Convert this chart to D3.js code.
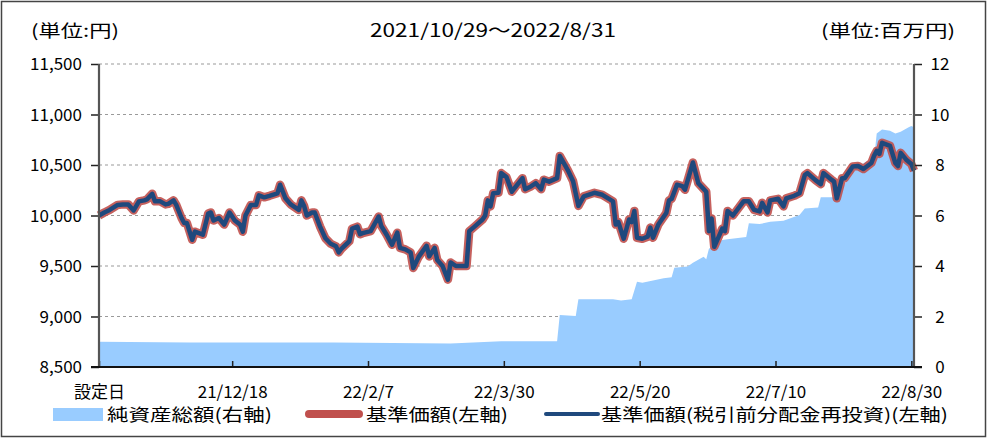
<!DOCTYPE html>
<html><head><meta charset="utf-8">
<script src="https://cdn.jsdelivr.net/npm/d3@7"></script>
<style>
html,body{margin:0;padding:0;background:#fff;}
svg{display:block;}
text{font-family:"Liberation Sans Narrow","Noto Sans CJK JP",sans-serif;fill:#000;}
.jp{font-family:"Noto Sans CJK JP",sans-serif;}
</style></head>
<body>
<svg id="chart" width="989" height="439"></svg>
<script>
// ---- data ----
const navDates = [
"2021-10-29","2021-10-31","2021-11-02","2021-11-05","2021-11-07","2021-11-09","2021-11-10","2021-11-11","2021-11-13","2021-11-15",
"2021-11-16","2021-11-18","2021-11-19","2021-11-21","2021-11-23","2021-11-24","2021-11-26","2021-11-27","2021-11-29","2021-11-30",
"2021-12-01","2021-12-03","2021-12-04","2021-12-06","2021-12-07","2021-12-09","2021-12-10","2021-12-11","2021-12-13","2021-12-15",
"2021-12-17","2021-12-19","2021-12-21","2021-12-22","2021-12-23","2021-12-25","2021-12-27","2021-12-28","2021-12-30","2022-01-01",
"2022-01-04","2022-01-05","2022-01-07","2022-01-09","2022-01-12","2022-01-13","2022-01-14","2022-01-15","2022-01-17","2022-01-18",
"2022-01-20","2022-01-22","2022-01-24","2022-01-26","2022-01-27","2022-01-28","2022-01-31","2022-02-01","2022-02-03","2022-02-04",
"2022-02-05","2022-02-08","2022-02-11","2022-02-12","2022-02-14","2022-02-16","2022-02-18","2022-02-19","2022-02-21","2022-02-23",
"2022-02-24","2022-02-26","2022-03-01","2022-03-02","2022-03-04","2022-03-05","2022-03-07","2022-03-09","2022-03-10","2022-03-12",
"2022-03-16","2022-03-17","2022-03-19","2022-03-22","2022-03-23","2022-03-24","2022-03-25","2022-03-26","2022-03-28","2022-03-29",
"2022-03-31","2022-04-02","2022-04-03","2022-04-06","2022-04-07","2022-04-09","2022-04-11","2022-04-13","2022-04-14","2022-04-16",
"2022-04-19","2022-04-20","2022-04-23","2022-04-25","2022-04-27","2022-04-29","2022-05-03","2022-05-06","2022-05-10","2022-05-11",
"2022-05-12","2022-05-14","2022-05-16","2022-05-17","2022-05-18","2022-05-19","2022-05-21","2022-05-23","2022-05-24","2022-05-25",
"2022-05-27","2022-05-30","2022-05-31","2022-06-01","2022-06-03","2022-06-05","2022-06-06","2022-06-09","2022-06-11","2022-06-14",
"2022-06-15","2022-06-16","2022-06-17","2022-06-20","2022-06-21","2022-06-22","2022-06-24","2022-06-28","2022-06-30","2022-07-02",
"2022-07-04","2022-07-05","2022-07-07","2022-07-08","2022-07-11","2022-07-13","2022-07-14","2022-07-17","2022-07-19","2022-07-21",
"2022-07-22","2022-07-25","2022-07-27","2022-07-28","2022-07-31","2022-08-01","2022-08-02","2022-08-04","2022-08-05","2022-08-08",
"2022-08-10","2022-08-12","2022-08-15","2022-08-16","2022-08-17","2022-08-18","2022-08-19","2022-08-22","2022-08-24","2022-08-25",
"2022-08-26","2022-08-28","2022-08-30","2022-08-31"];

// 基準価額 (円)
const navValues = [
10000,10030,10055,10105,10110,10110,10080,10050,10140,10150,
10160,10215,10140,10140,10110,10115,10150,10105,9975,9925,
9925,9760,9840,9820,9810,10020,10030,9950,9975,9910,
10030,9950,9910,9840,10000,10105,10105,10200,10180,10195,
10220,10305,10170,10110,10055,10150,10095,10000,10030,10030,
9890,9775,9720,9695,9635,9670,9745,9870,9890,9815,
9825,9845,9990,9895,9810,9710,9830,9680,9665,9635,
9480,9590,9700,9595,9680,9560,9500,9365,9535,9500,
9500,9845,9890,9960,10000,10150,10090,10220,10225,10420,
10380,10235,10270,10370,10260,10285,10320,10260,10355,10335,
10370,10590,10450,10340,10095,10190,10225,10205,10140,9910,
9935,9770,9960,9935,10045,9780,9770,9790,9880,9780,
9910,10025,10150,10165,10305,10290,10255,10525,10320,10235,
9845,9970,9690,9870,9845,10045,10000,10140,10140,10055,
10040,10125,10030,10150,10165,10090,10170,10195,10220,10400,
10420,10350,10310,10420,10355,10335,10170,10370,10370,10485,
10490,10460,10520,10590,10640,10610,10720,10690,10520,10490,
10620,10555,10510,10445];

// 基準価額(税引前分配金再投資) — no distributions, identical to 基準価額
const reinvestValues = navValues;

// 純資産総額 (百万円)
const assetDates = ["2021-10-29","2021-12-02","2022-01-25","2022-03-10","2022-03-29","2022-04-19","2022-04-20","2022-04-26","2022-04-27","2022-05-10",
"2022-05-13","2022-05-17","2022-05-19","2022-05-21","2022-05-29","2022-06-01","2022-06-02","2022-06-07","2022-06-09","2022-06-13",
"2022-06-14","2022-06-15","2022-06-20","2022-06-22","2022-06-29","2022-06-30","2022-07-04","2022-07-08","2022-07-13","2022-07-19",
"2022-07-21","2022-07-26","2022-07-27","2022-08-01","2022-08-05","2022-08-08","2022-08-13","2022-08-16","2022-08-17","2022-08-19",
"2022-08-22","2022-08-24","2022-08-26","2022-08-29","2022-08-30","2022-08-31"];
const assetValues = [1.00,0.97,0.97,0.93,1.02,1.02,2.06,2.02,2.68,2.68,
2.63,2.68,3.38,3.34,3.51,3.55,3.93,3.98,4.13,4.37,
4.27,4.68,5.03,5.06,5.15,5.69,5.66,5.75,5.79,6.02,
6.28,6.32,6.72,6.72,7.25,7.80,8.13,8.20,9.25,9.41,
9.36,9.25,9.32,9.50,9.54,9.50];

const leftTicks = [8500,9000,9500,10000,10500,11000,11500];
const rightTicks = [0,2,4,6,8,10,12];
const xTickDates = ["2021-10-29","2021-12-18","2022-02-07","2022-03-30","2022-05-20","2022-07-10","2022-08-30"];
const xTickLabels = ["設定日","21/12/18","22/2/7","22/3/30","22/5/20","22/7/10","22/8/30"];
const seriesNames = ["純資産総額(右軸)","基準価額(左軸)","基準価額(税引前分配金再投資)(左軸)"];
const colors = {area:"#99CCFF", nav:"#C0504D", reinv:"#1F497D"};

// ---- drawing ----
const parse = d3.timeParse("%Y-%m-%d");
const svg = d3.select("#chart");
const L = 99, R = 914, T = 64, B = 367;

const x = d3.scaleTime().domain([parse("2021-10-29"), parse("2022-08-31")]).range([L, R]);
const yL = d3.scaleLinear().domain([8500, 11500]).range([B, T]);
const yR = d3.scaleLinear().domain([0, 12]).range([B, T]);

svg.append("rect").attr("x",0).attr("y",0).attr("width",989).attr("height",439).attr("fill","#fff");
svg.append("rect").attr("x",1.5).attr("y",1.5).attr("width",984).attr("height",435)
  .attr("fill","none").attr("stroke","#444").attr("stroke-width",1.5);

// gridlines
svg.append("g").selectAll("line").data(leftTicks.filter(v => v > 8500)).join("line")
  .attr("x1", L).attr("x2", R).attr("y1", d => yL(d)).attr("y2", d => yL(d))
  .attr("stroke", "#9a9a9a").attr("stroke-width", 1.2).attr("stroke-dasharray", "3,3");

// area
const assetData = assetDates.map((d,i) => ({d: parse(d), v: assetValues[i]}));
svg.append("path").datum(assetData)
  .attr("d", d3.area().x(d => x(d.d)).y0(B).y1(d => yR(d.v)))
  .attr("fill", colors.area);

// lines
const navData = navDates.map((d,i) => ({d: parse(d), v: navValues[i]}));
const reinvData = navDates.map((d,i) => ({d: parse(d), v: reinvestValues[i]}));
const line = d3.line().x(d => x(d.d)).y(d => yL(d.v));
svg.append("path").datum(navData).attr("d", line).attr("fill","none")
  .attr("stroke", colors.nav).attr("stroke-width", 8.5).attr("stroke-linejoin","round").attr("stroke-opacity",0.9);
svg.append("path").datum(reinvData).attr("d", line).attr("fill","none")
  .attr("stroke", colors.reinv).attr("stroke-width", 4.5).attr("stroke-linejoin","round");

// axes
const axL = svg.append("g").attr("transform", `translate(${L},0)`)
  .call(d3.axisLeft(yL).tickValues(leftTicks).tickSize(8).tickPadding(6).tickFormat(d3.format(",")));
const axR = svg.append("g").attr("transform", `translate(${R},0)`)
  .call(d3.axisRight(yR).tickValues(rightTicks).tickSize(8).tickPadding(8).tickFormat(d3.format("d")));
const axB = svg.append("g").attr("transform", `translate(0,${B})`)
  .call(d3.axisBottom(x).tickValues(xTickDates.map(parse)).tickSize(-6).tickPadding(19)
    .tickFormat((d,i) => xTickLabels[i]));

[axL, axR, axB].forEach(g => {
  g.selectAll(".domain").remove();
  g.selectAll("text").attr("font-size", 17).attr("font-family", null);
});
axL.selectAll(".tick line").attr("stroke","#222").attr("stroke-width",1.5);
axR.selectAll(".tick line").attr("stroke","#222").attr("stroke-width",1.5);
axB.selectAll(".tick line").attr("stroke","#222").attr("stroke-width",1.5);
axL.selectAll("text").attr("dx", -3).attr("dy","0.35em");
axR.selectAll("text").attr("text-anchor","middle").attr("x", 26).attr("dy","0.35em");
axB.selectAll("text").attr("dy","0.71em");
axB.selectAll("text").filter((d,i) => i === 0).attr("class","jp").attr("font-size",17);

// axis lines
svg.append("line").attr("x1",L).attr("x2",L).attr("y1",T).attr("y2",B+1).attr("stroke","#555").attr("stroke-width",2.2);
svg.append("line").attr("x1",R).attr("x2",R).attr("y1",T).attr("y2",B+1).attr("stroke","#555").attr("stroke-width",2.2);
svg.append("line").attr("x1",L-8).attr("x2",R+8).attr("y1",B).attr("y2",B).attr("stroke","#111").attr("stroke-width",1.8);

// header
svg.append("text").attr("class","jp").attr("x",31).attr("y",37).attr("font-size",17)
  .attr("textLength",88).attr("lengthAdjust","spacingAndGlyphs").text("(単位:円)");
svg.append("text").attr("class","jp").attr("x",493).attr("y",37).attr("font-size",18).attr("text-anchor","middle")
  .attr("textLength",246).attr("lengthAdjust","spacingAndGlyphs").text("2021/10/29～2022/8/31");
svg.append("text").attr("class","jp").attr("x",955).attr("y",37).attr("font-size",17).attr("text-anchor","end")
  .attr("textLength",134).attr("lengthAdjust","spacingAndGlyphs").text("(単位:百万円)");

// legend
const lg = svg.append("g");
lg.append("rect").attr("x",53).attr("y",408).attr("width",50).attr("height",13).attr("fill",colors.area);
lg.append("text").attr("class","jp").attr("x",107).attr("y",421).attr("font-size",17)
  .attr("textLength",165).attr("lengthAdjust","spacingAndGlyphs").text(seriesNames[0]);
lg.append("line").attr("x1",309).attr("x2",359).attr("y1",414).attr("y2",414)
  .attr("stroke",colors.nav).attr("stroke-width",8).attr("stroke-linecap","round");
lg.append("text").attr("class","jp").attr("x",366).attr("y",421).attr("font-size",17)
  .attr("textLength",142).attr("lengthAdjust","spacingAndGlyphs").text(seriesNames[1]);
lg.append("line").attr("x1",546).attr("x2",598).attr("y1",414).attr("y2",414)
  .attr("stroke",colors.reinv).attr("stroke-width",4).attr("stroke-linecap","round");
lg.append("text").attr("class","jp").attr("x",601).attr("y",421).attr("font-size",17)
  .attr("textLength",347).attr("lengthAdjust","spacingAndGlyphs").text(seriesNames[2]);
</script>
</body></html>
